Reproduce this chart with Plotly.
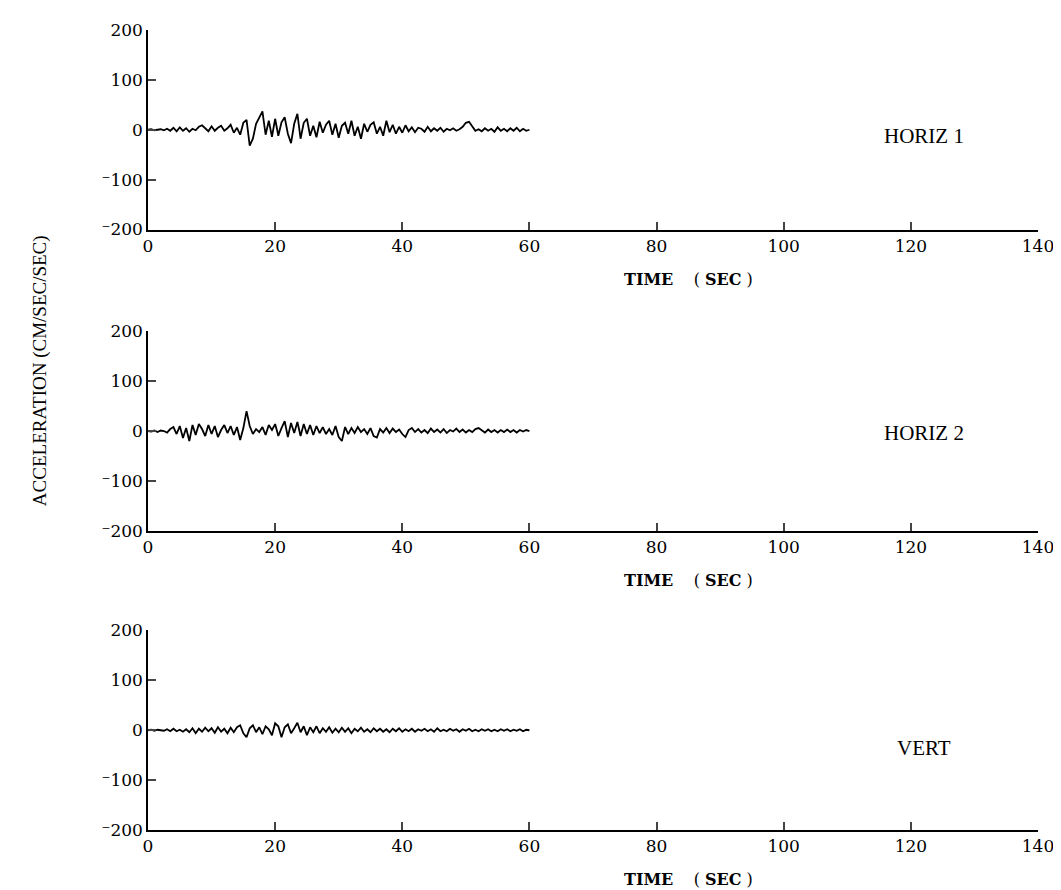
import plotly.graph_objects as go
from plotly.subplots import make_subplots

# sample times (sec)
time_sec = [
    0, 0.5, 1, 1.5, 2, 2.5, 3, 3.5, 4, 4.5,
    5, 5.5, 6, 6.5, 7, 7.5, 8, 8.5, 9, 9.5,
    10, 10.5, 11, 11.5, 12, 12.5, 13, 13.5, 14, 14.5,
    15, 15.5, 16, 16.5, 17, 17.5, 18, 18.5, 19, 19.5,
    20, 20.5, 21, 21.5, 22, 22.5, 23, 23.5, 24, 24.5,
    25, 25.5, 26, 26.5, 27, 27.5, 28, 28.5, 29, 29.5,
    30, 30.5, 31, 31.5, 32, 32.5, 33, 33.5, 34, 34.5,
    35, 35.5, 36, 36.5, 37, 37.5, 38, 38.5, 39, 39.5,
    40, 40.5, 41, 41.5, 42, 42.5, 43, 43.5, 44, 44.5,
    45, 45.5, 46, 46.5, 47, 47.5, 48, 48.5, 49, 49.5,
    50, 50.5, 51, 51.5, 52, 52.5, 53, 53.5, 54, 54.5,
    55, 55.5, 56, 56.5, 57, 57.5, 58, 58.5, 59, 59.5,
    60,
]

horiz1 = [
    0, 1, -1, 0, 1, -1, 2, -2, 4, -3,
    5, -2, 3, -4, 2, -1, 6, 9, 2, -3,
    7, -2, 4, 8, -2, 3, 10, -6, 4, -10,
    14, 20, -32, -18, 12, 24, 37, -10, 18, -14,
    22, -12, 15, 25, -8, -27, 12, 32, -18, 14,
    22, -12, 8, -15, 16, -6, 10, 18, -10, 12,
    -16, 8, 14, -8, 18, -12, 6, -18, 12, -4,
    10, 15, -8, 6, -12, 18, -5, 10, -8, 6,
    -6, 9, -3, 5, -5, 4, 2, -4, 6, -3,
    3, -2, 4, -4, 2, -1, 3, -2, 1, 6,
    14, 16, 8, -2, 1, -3, 3, -2, 2, -4,
    5, -2, 2, -3, 3, -2, 4, -3, 2, -2,
    0,
]

horiz2 = [
    0, -1, 1, -2, 1, 0, -3, 4, 8, -6,
    10, -14, 6, -20, 12, -8, 14, 4, -10, 12,
    -6, 10, -12, 2, 12, -4, 10, -8, 8, -18,
    6, 40, 10, -6, 4, -2, 8, -8, 12, 2,
    14, -10, 6, 20, -12, 16, -4, 18, -10, 14,
    -6, 12, -8, 10, -4, 8, -6, 4, -8, 10,
    -12, -20, 8, -6, 6, -4, 8, -2, 4, -6,
    6, -10, -13, 4, -3, 6, -4, 5, -2, 3,
    -6, -12, 2, 6, -2, 4, -3, 2, -4, 5,
    -2, 3, -3, 4, -4, 2, -1, 5, -2, 3,
    -3, 2, -2, 4, 6, 2, -3, 3, -2, 2,
    -3, 2, -2, 3, -2, 2, -3, 2, -1, 2,
    0,
]

vert = [
    0, 1, -1, 1, 0, -1, 2, -2, 3, -2,
    1, -3, 2, -4, 4, -6, 3, -3, 5, -2,
    4, -5, 6, -3, 3, -6, 5, -4, 6, 10,
    -6, -14, 4, 10, -4, 6, -8, 8, 2, -10,
    14, 8, -14, 6, 12, -6, 4, 15, -4, 8,
    -10, 6, -4, 8, -6, 4, -3, 6, -5, 3,
    -4, 5, -3, 4, -6, 3, -2, 5, -3, 2,
    -4, 4, -2, 3, -3, 2, -4, 3, -2, 4,
    -3, 2, -2, 3, -3, 2, -1, 3, -2, 2,
    -3, 4, -2, 1, -2, 3, -1, 2, -3, 2,
    -1, 3, -2, 1, -2, 2, -1, 2, -2, 1,
    -2, 2, -1, 2, -2, 1, -1, 2, -2, 1,
    0,
]

components = ["HORIZ 1", "HORIZ 2", "VERT"]
series = [horiz1, horiz2, vert]
label_y = [-12, -4, -35]

x_ticks = [0, 20, 40, 60, 80, 100, 120, 140]
y_ticks = [-200, -100, 0, 100, 200]
y_ticktext = ["\u207b200", "\u207b100", "0", "100", "200"]

fig = make_subplots(rows=3, cols=1)

for i, (name, acc) in enumerate(zip(components, series)):
    fig.add_trace(go.Scatter(x=time_sec, y=acc, mode="lines",
                             line=dict(color="black", width=1.8),
                             showlegend=False), row=i + 1, col=1)

domains = [[0.7506, 1.0], [0.374, 0.6234], [0.0, 0.2494]]
tick_font = dict(family="DejaVu Serif", size=17, color="black")

for i in range(3):
    n = "" if i == 0 else str(i + 1)
    fig.layout["xaxis" + n].update(
        range=[0, 140], tickvals=x_ticks, ticks="inside", ticklen=8,
        tickwidth=1.5, showline=True, linecolor="black", linewidth=1.5,
        showgrid=False, zeroline=False, tickfont=tick_font)
    fig.layout["yaxis" + n].update(
        range=[-200, 200], tickvals=y_ticks, ticktext=y_ticktext,
        ticks="inside", ticklen=8, tickwidth=1.5, showline=True,
        linecolor="black", linewidth=1.5, showgrid=False, zeroline=False,
        tickfont=tick_font, domain=domains[i])
    # component name
    fig.add_annotation(x=122, y=label_y[i], xref="x" + n, yref="y" + n,
                       text=components[i], showarrow=False,
                       font=dict(family="Liberation Serif", size=21, color="black"))
    # time label
    fig.add_annotation(x=85, y=0, xref="x" + n, yref="y" + n + " domain",
                       text="<b>TIME</b>&nbsp;&nbsp;&nbsp;&nbsp;(&nbsp;<b>SEC</b>&nbsp;)",
                       showarrow=False, yanchor="top", yshift=-38,
                       font=dict(family="DejaVu Serif", size=16, color="black"))

fig.update_layout(width=1061, height=890, plot_bgcolor="white", paper_bgcolor="white",
                  margin=dict(l=140, r=31, t=20, b=68))

# y-label placed in pixels, converted to paper coords
fig.add_annotation(x=(32 - 140) / (1061 - 171), y=(822 - 362) / 802,
                   xref="paper", yref="paper", xanchor="center", yanchor="middle",
                   text="ACCELERATION (CM/SEC/SEC)", showarrow=False,
                   textangle=-90, font=dict(family="Liberation Serif", size=19, color="black"))

fig.write_html("out.html")
